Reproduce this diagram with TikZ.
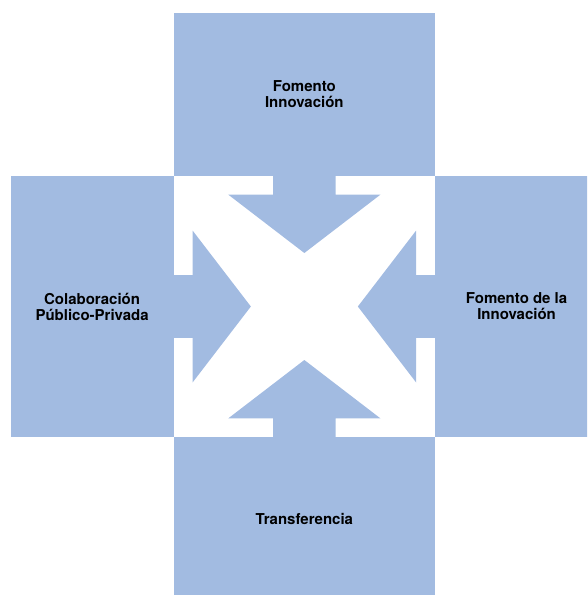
\documentclass[tikz,border=0pt]{standalone}
\usepackage{fontspec}
\setmainfont{TeX Gyre Heros}
\usetikzlibrary{positioning}
\definecolor{boxblue}{RGB}{162,187,225}
\tikzstyle{hub} = [rectangle, minimum width=260.7pt, minimum height=260.4pt, inner sep=0pt]
\tikzstyle{pillar} = [rectangle, fill=boxblue, inner sep=0pt, text centered, align=center, font=\bfseries\fontsize{15}{16}\selectfont]
\tikzstyle{notch} = [fill=boxblue]

\begin{document}
\begin{tikzpicture}[x=1pt,y=-1pt]
		\useasboundingbox (0,0) rectangle (587,595);
		\clip (0,0) rectangle (587,595);
		\node (hub) [hub] at (304.35,306.5) {};
		\node (fomento) [pillar,minimum width=260.7pt,minimum height=163pt,above=0pt of hub] {Fomento\\Innovación};
		\node (colaboracion) [pillar,minimum width=163pt,minimum height=260.4pt,left=0pt of hub] {Colaboración\\Público-Privada};
		\node (fomento-de-la) [pillar,minimum width=163pt,minimum height=260.4pt,right=0pt of hub] {Fomento de la\\Innovación};
		\node (transferencia) [pillar,minimum width=260.7pt,minimum height=163pt,below=0pt of hub] {Transferencia};
		
		% blue notches between the four white arrows
		\foreach \a in {0,90,180,270}
			\fill [notch,shift={(hub.center)},rotate=\a] (-31.3,-131) -- (-31.3,-111.8) -- (-76,-111.8) -- (0,-53.5) -- (76,-111.8) -- (31.3,-111.8) -- (31.3,-131) -- cycle;
	
	\end{tikzpicture}
\end{document}
